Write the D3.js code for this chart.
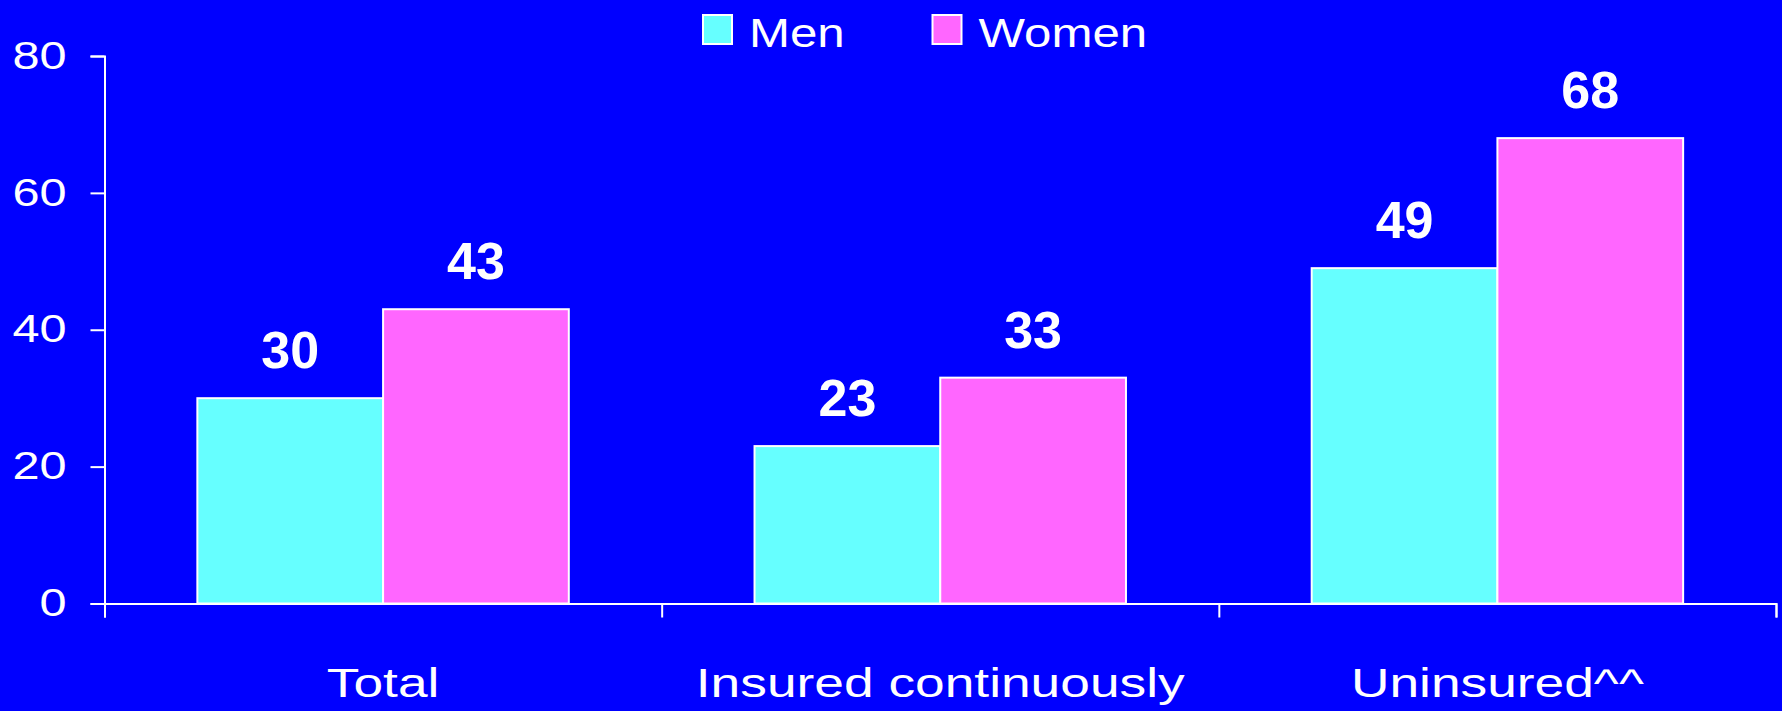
<!DOCTYPE html>
<html>
<head>
<meta charset="utf-8">
<script src="https://cdn.jsdelivr.net/npm/d3@7"></script>
<style>
  html, body { margin: 0; padding: 0; background: #0000ff; overflow: hidden; }
  svg { display: block; }
  text { font-family: "Liberation Sans", Arial, sans-serif; fill: #fff; }
</style>
</head>
<body>
<svg id="chart"></svg>
<script>
const categories = ['Total', 'Insured continuously', 'Uninsured^^'];
const seriesNames = ['Men', 'Women'];
const men = [30, 23, 49];
const women = [43, 33, 68];
const yTicks = [0, 20, 40, 60, 80];

const WIDTH = 1782;
const HEIGHT = 711;
const margin = {top: 56, right: 6, bottom: 107.5, left: 104.5},
    width = WIDTH - margin.left - margin.right,
    height = HEIGHT - margin.top - margin.bottom;

const color = d3.scaleOrdinal().domain(seriesNames).range(['#66ffff', '#ff66ff']);

// the original text looks stretched sideways, so widen it a bit
function stretch(sel, k) {
  sel.each(function() {
    const w = this.getComputedTextLength();
    d3.select(this).attr('textLength', w * k).attr('lengthAdjust', 'spacingAndGlyphs');
  });
}

const data = categories.map((c, i) => ({category: c, Men: men[i], Women: women[i]}));

const root = d3.select('#chart')
    .attr('width', WIDTH)
    .attr('height', HEIGHT)
    .style('background', '#0000ff');

const svg = root.append('g')
    .attr('transform', `translate(${margin.left},${margin.top})`);

// scales
const y = d3.scaleLinear().domain([0, 80]).range([height, 0]);
const x0 = d3.scaleBand().domain(categories).range([0, width]).padding(0);
const x1 = d3.scaleBand().domain(seriesNames).range([0, x0.bandwidth()])
    .paddingInner(0).paddingOuter(0.5);
// tick marks sit on the group boundaries
const xEdge = d3.scaleLinear().domain([0, categories.length]).range([0, width]);

// Y axis
const yAxis = svg.append('g')
    .call(d3.axisLeft(y).tickValues(yTicks).tickSize(14).tickPadding(24));
yAxis.selectAll('path, line').attr('stroke', '#fff').attr('stroke-width', 2);
yAxis.selectAll('text')
    .attr('fill', '#fff')
    .style('font-size', '38px')
    .call(stretch, 1.28);

// Bars
const groups = svg.selectAll('g.group')
    .data(data)
    .join('g')
    .attr('class', 'group')
    .attr('transform', d => `translate(${x0(d.category)},0)`);

groups.selectAll('rect')
    .data(d => seriesNames.map(k => ({key: k, value: d[k]})))
    .join('rect')
    .attr('x', d => x1(d.key))
    .attr('y', d => y(d.value))
    .attr('width', x1.bandwidth())
    .attr('height', d => height - y(d.value))
    .attr('fill', d => color(d.key))
    .attr('stroke', '#fff')
    .attr('stroke-width', 2);

groups.selectAll('text.value')
    .data(d => seriesNames.map(k => ({key: k, value: d[k]})))
    .join('text')
    .attr('class', 'value')
    .attr('x', d => x1(d.key) + x1.bandwidth() / 2)
    .attr('y', d => y(d.value) - 30)
    .attr('text-anchor', 'middle')
    .style('font-size', '52px')
    .style('font-weight', 'bold')
    .text(d => d.value);

// X axis
const xAxis = svg.append('g')
    .attr('transform', `translate(0,${height})`)
    .call(d3.axisBottom(xEdge).tickValues(d3.range(categories.length + 1)).tickSize(14).tickFormat(''));
xAxis.selectAll('path, line').attr('stroke', '#fff').attr('stroke-width', 2);

svg.append('g')
    .selectAll('text')
    .data(categories)
    .join('text')
    .attr('x', d => x0(d) + x0.bandwidth() / 2)
    .attr('y', height + 93)
    .attr('text-anchor', 'middle')
    .style('font-size', '41px')
    .text(d => d)
    .call(stretch, 1.3);

// Legend
const legend = root.append('g')
    .selectAll('g')
    .data(seriesNames)
    .join('g')
    .attr('transform', (d, i) => `translate(${703 + i * 229.5},15)`);

legend.append('rect')
    .attr('width', 29)
    .attr('height', 29)
    .attr('fill', d => color(d))
    .attr('stroke', '#fff')
    .attr('stroke-width', 2);

legend.append('text')
    .attr('x', 46)
    .attr('y', 31.5)
    .style('font-size', '41px')
    .text(d => d)
    .call(stretch, 1.2);
</script>
</body>
</html>
